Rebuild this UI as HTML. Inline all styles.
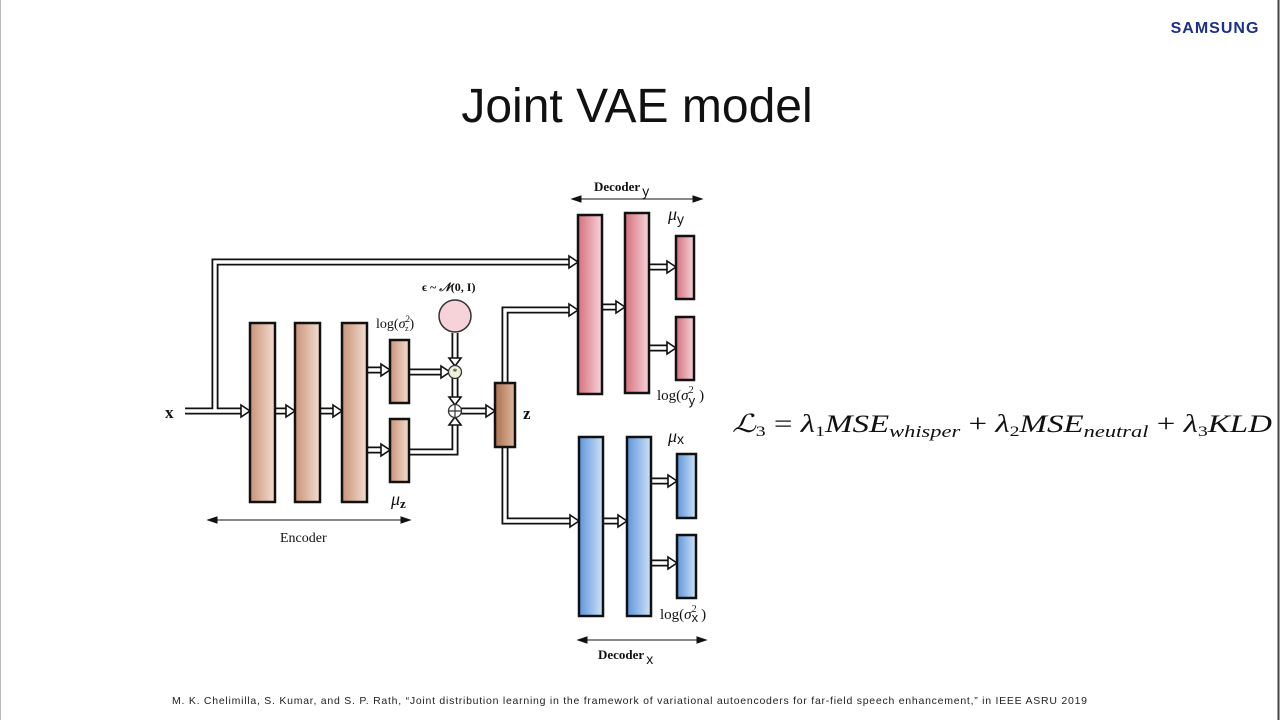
<!DOCTYPE html>
<html><head><meta charset="utf-8"><style>
html,body{margin:0;padding:0;background:#fff;width:1280px;height:720px;overflow:hidden;}
</style></head><body>
<svg width="1280" height="720" viewBox="0 0 1280 720" xmlns="http://www.w3.org/2000/svg">
<defs>
<linearGradient id="br" x1="0" x2="1"><stop offset="0" stop-color="#c9937a"/><stop offset="1" stop-color="#f3ddd0"/></linearGradient>
<linearGradient id="brz" x1="0" x2="1"><stop offset="0" stop-color="#a8704f"/><stop offset="1" stop-color="#e0b89e"/></linearGradient>
<linearGradient id="pk" x1="0" x2="1"><stop offset="0" stop-color="#d6707e"/><stop offset="1" stop-color="#f6d4da"/></linearGradient>
<linearGradient id="bl" x1="0" x2="1"><stop offset="0" stop-color="#5f95db"/><stop offset="1" stop-color="#cfe2f8"/></linearGradient>
</defs>
<rect x="0" y="0" width="1280" height="720" fill="#fff"/>
<line x1="0.5" y1="0" x2="0.5" y2="720" stroke="#bbb"/>
<line x1="1278.5" y1="0" x2="1278.5" y2="720" stroke="#444" stroke-width="2"/>
<text x="1215" y="33" font-family="Liberation Sans, sans-serif" font-weight="bold" font-size="16" fill="#1c2f8a" text-anchor="middle" letter-spacing="1">SAMSUNG</text>
<text x="637" y="122" font-family="Liberation Sans, sans-serif" font-size="48" fill="#111" text-anchor="middle">Joint VAE model</text>

<g fill="none" stroke-linejoin="miter">
<g stroke="#111" stroke-width="7">
<path d="M185 411 H243 M215 411 V262 H570 M275 411 H288 M320 411 H335 M367 370 H383 M367 450 H383 M409 372 H443 M455 333 V360 M455 378 V399 M409 452 H455 V423 M461 411 H488 M505 383 V310 H570 M505 447 V521 H571 M602 307 H618 M649 267 H669 M649 348 H669 M603 521 H620 M651 481 H670 M651 563 H670"/>
</g>
<g stroke="#fff" stroke-width="3.4">
<path d="M185 411 H243 M215 411 V262 H570 M275 411 H288 M320 411 H335 M367 370 H383 M367 450 H383 M409 372 H443 M455 333 V360 M455 378 V399 M409 452 H455 V423 M461 411 H488 M505 383 V310 H570 M505 447 V521 H571 M602 307 H618 M649 267 H669 M649 348 H669 M603 521 H620 M651 481 H670 M651 563 H670"/>
</g>
</g>
<g fill="#fff" stroke="#111" stroke-width="1.6">
<polygon points="241,405 250,411 241,417"/>
<polygon points="569,256 578,262 569,268"/>
<polygon points="286,405 295,411 286,417"/>
<polygon points="333,405 342,411 333,417"/>
<polygon points="381,364 390,370 381,376"/>
<polygon points="381,444 390,450 381,456"/>
<polygon points="441,366 450,372 441,378"/>
<polygon points="449,358 455,366 461,358"/>
<polygon points="449,397 455,405 461,397"/>
<polygon points="449,425 455,417 461,425"/>
<polygon points="486,405 495,411 486,417"/>
<polygon points="569,304 578,310 569,316"/>
<polygon points="570,515 579,521 570,527"/>
<polygon points="616,301 625,307 616,313"/>
<polygon points="667,261 676,267 667,273"/>
<polygon points="667,342 676,348 667,354"/>
<polygon points="618,515 627,521 618,527"/>
<polygon points="668,475 677,481 668,487"/>
<polygon points="668,557 677,563 668,569"/>
</g>

<g stroke="#111" stroke-width="2.5">
<rect x="250" y="323" width="25" height="179" fill="url(#br)"/>
<rect x="295" y="323" width="25" height="179" fill="url(#br)"/>
<rect x="342" y="323" width="25" height="179" fill="url(#br)"/>
<rect x="390" y="340" width="19" height="63" fill="url(#br)"/>
<rect x="390" y="419" width="19" height="63" fill="url(#br)"/>
<rect x="495" y="383" width="20" height="64" fill="url(#brz)"/>
<rect x="578" y="215" width="24" height="179" fill="url(#pk)"/>
<rect x="625" y="213" width="24" height="180" fill="url(#pk)"/>
<rect x="676" y="236" width="18" height="63" fill="url(#pk)"/>
<rect x="676" y="317" width="18" height="63" fill="url(#pk)"/>
<rect x="579" y="437" width="24" height="179" fill="url(#bl)"/>
<rect x="627" y="437" width="24" height="179" fill="url(#bl)"/>
<rect x="677" y="454" width="19" height="64" fill="url(#bl)"/>
<rect x="677" y="535" width="19" height="63" fill="url(#bl)"/>
</g>
<ellipse cx="455" cy="316" rx="16" ry="16" fill="#f6d3d9" stroke="#333" stroke-width="1.5"/>
<circle cx="455" cy="372" r="6.5" fill="#eef0d8" stroke="#333" stroke-width="1.3"/>
<text x="455" y="375" font-size="9" text-anchor="middle" font-family="Liberation Serif, serif">*</text>
<circle cx="455" cy="411" r="6.5" fill="#fff" stroke="#333" stroke-width="1.3"/>
<path d="M449 411 H461 M455 405 V417" stroke="#333" stroke-width="1.2"/>

<g font-family="Liberation Serif, serif" fill="#111">
<text x="165" y="418" font-size="17" font-weight="bold">x</text>
<text x="523" y="419" font-size="17" font-weight="bold">z</text>
<text x="422" y="291" font-size="12" font-weight="bold">ϵ ~ <tspan font-style="italic">𝒩</tspan>(0, I)</text>
<text x="376" y="328" font-size="14">log(<tspan font-style="italic">σ</tspan><tspan font-size="9" dy="-6">2</tspan><tspan font-size="8" dx="-5" dy="9">z</tspan><tspan dy="-3" dx="1">)</tspan></text>
<text x="391" y="505" font-size="18" font-style="italic">μ<tspan font-style="normal" font-weight="bold" font-size="13" dy="3">z</tspan></text>
<text x="280" y="542" font-size="14">Encoder</text>
<text x="594" y="191" font-size="13" font-weight="bold">Decoder<tspan font-family="Liberation Sans, sans-serif" font-weight="normal" font-size="14" dx="2" dy="5">y</tspan></text>
<text x="598" y="659" font-size="13" font-weight="bold">Decoder<tspan font-family="Liberation Sans, sans-serif" font-weight="normal" font-size="14" dx="2" dy="5">x</tspan></text>
<text x="668" y="220" font-size="18" font-style="italic">μ<tspan font-style="normal" font-family="Liberation Sans, sans-serif" font-size="14" dy="4">y</tspan></text>
<text x="668" y="442" font-size="18" font-style="italic">μ<tspan font-style="normal" font-family="Liberation Sans, sans-serif" font-size="14" dy="2">x</tspan></text>
<text x="657" y="400" font-size="15">log(<tspan font-style="italic">σ</tspan><tspan font-size="10" dy="-7">2</tspan><tspan font-family="Liberation Sans, sans-serif" font-size="13" dx="-5" dy="12">y</tspan><tspan dy="-5" dx="4">)</tspan></text>
<text x="660" y="619" font-size="15">log(<tspan font-style="italic">σ</tspan><tspan font-size="10" dy="-7">2</tspan><tspan font-family="Liberation Sans, sans-serif" font-size="13" dx="-5" dy="10">x</tspan><tspan dy="-3" dx="3">)</tspan></text>
<text x="732" y="432" font-size="25" textLength="540" lengthAdjust="spacingAndGlyphs"><tspan font-style="italic">ℒ</tspan><tspan font-size="15" dy="4">3</tspan><tspan dy="-4"> = </tspan><tspan font-style="italic">λ</tspan><tspan font-size="15" dy="4">1</tspan><tspan dy="-4" font-style="italic">MSE</tspan><tspan font-style="italic" font-size="17" dy="5">whisper</tspan><tspan dy="-5"> + </tspan><tspan font-style="italic">λ</tspan><tspan font-size="15" dy="4">2</tspan><tspan dy="-4" font-style="italic">MSE</tspan><tspan font-style="italic" font-size="17" dy="5">neutral</tspan><tspan dy="-5"> + </tspan><tspan font-style="italic">λ</tspan><tspan font-size="15" dy="4">3</tspan><tspan dy="-4" font-style="italic">KLD</tspan></text>
</g>
<g stroke="#111" stroke-width="1" fill="#111">
<line x1="214" y1="520" x2="404" y2="520"/>
<polygon points="208,520 217,517 217,523"/>
<polygon points="410,520 401,517 401,523"/>
<line x1="578" y1="199" x2="696" y2="199"/>
<polygon points="572,199 581,196 581,202"/>
<polygon points="702,199 693,196 693,202"/>
<line x1="584" y1="640" x2="700" y2="640"/>
<polygon points="578,640 587,637 587,643"/>
<polygon points="706,640 697,637 697,643"/>
</g>
<text x="172" y="704" font-family="Liberation Sans, sans-serif" font-size="10.5" fill="#222" textLength="915">M. K. Chelimilla, S. Kumar, and S. P. Rath, “Joint distribution learning in the framework of variational autoencoders for far-field speech enhancement,” in IEEE ASRU 2019</text>
</svg>
</body></html>
